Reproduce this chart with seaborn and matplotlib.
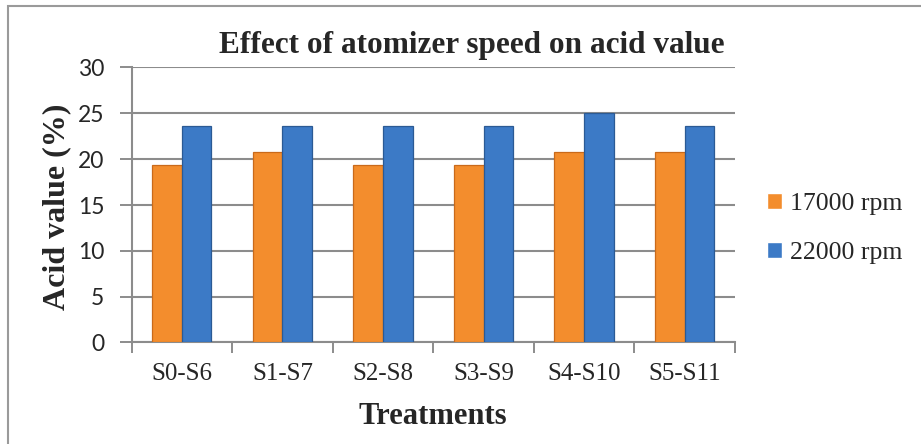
import numpy as np
import pandas as pd
import matplotlib
matplotlib.use("Agg")
import matplotlib.pyplot as plt
import seaborn as sns
from matplotlib.patches import Rectangle
from matplotlib.ticker import FixedLocator

categories = ["S0-S6", "S1-S7", "S2-S8", "S3-S9", "S4-S10", "S5-S11"]
series_names = ["17000 rpm", "22000 rpm"]
values_17000 = [19.4, 20.8, 19.4, 19.4, 20.8, 20.8]
values_22000 = [23.6, 23.6, 23.6, 23.6, 25.0, 23.6]
y_ticks = [0, 5, 10, 15, 20, 25, 30]

title = "Effect of atomizer speed on acid value"
xlabel = "Treatments"
ylabel = "Acid value (%)"

df = pd.DataFrame({
    "Treatment": categories * 2,
    "Speed": [series_names[0]] * len(categories) + [series_names[1]] * len(categories),
    "Value": values_17000 + values_22000,
})

sns.set_theme(style="white")
plt.rcParams["font.family"] = ["Liberation Serif", "DejaVu Serif"]

W, H = 921, 444
fig = plt.figure(figsize=(W / 100, H / 100), dpi=100)
ax_l, ax_r, ax_t, ax_b = 131.5, 735, 67.5, 342.5
ax = fig.add_axes([ax_l / W, 1 - ax_b / H, (ax_r - ax_l) / W, (ax_b - ax_t) / H])

palette = {series_names[0]: "#F38D2D", series_names[1]: "#3C7AC6"}
sns.barplot(data=df, x="Treatment", y="Value", hue="Speed", order=categories,
            hue_order=series_names, palette=palette, width=0.59, ax=ax,
            saturation=1, legend=True)

edge = {series_names[0]: "#C96A1B", series_names[1]: "#2B5A94"}
for container, name in zip(ax.containers, series_names):
    for bar in container:
        bar.set_edgecolor(edge[name])
        bar.set_linewidth(0.9)
        bar.set_zorder(3)

ax.set_ylim(0, 30)
ax.set_xlim(-0.5, len(categories) - 0.5)
ax.set_yticks(y_ticks)
ax.yaxis.grid(True, color="#8C8C8C", linewidth=1.5, zorder=0)
ax.set_axisbelow(True)
for s in ["top", "right"]:
    ax.spines[s].set_visible(False)
for s in ["left", "bottom"]:
    ax.spines[s].set_color("#8C8C8C")
    ax.spines[s].set_linewidth(1.5)

ax.tick_params(axis="y", which="major", direction="out", length=8.5, width=1.4,
               color="#8C8C8C", pad=11, left=True)
for lab in ax.get_yticklabels():
    lab.set_family(["Lato", "DejaVu Sans"])
    lab.set_fontsize(16.5)
ax.tick_params(axis="x", which="major", length=0, labelsize=18, pad=15)
ax.xaxis.set_minor_locator(FixedLocator(np.arange(-0.5, len(categories), 1.0)))
ax.tick_params(axis="x", which="minor", direction="out", length=8, width=1.4,
               color="#8C8C8C", bottom=True)
ax.set_xlabel("")
ax.set_ylabel("")

fig.text(472 / W, 1 - 53 / H, title, ha="center", va="baseline",
         fontsize=22.5, fontweight="bold")
fig.text(57 / W, 1 - 206.5 / H, ylabel, ha="center", va="center",
         rotation=90, fontsize=23, fontweight="bold")
fig.text(433 / W, 1 - 416 / H, xlabel, ha="center", va="center",
         fontsize=22, fontweight="bold")

handles, labels = ax.get_legend_handles_labels()
ax.get_legend().remove()
fig.legend(handles, labels, loc="center left",
           bbox_to_anchor=(767 / W, 1 - 228.5 / H), frameon=False,
           prop={"family": "Liberation Serif", "size": 18.5},
           borderpad=0, borderaxespad=0, handlelength=0.6, handleheight=0.6,
           handletextpad=0.3, labelspacing=1.05)

fig.patches.append(Rectangle((8 / W, -0.02), 1.0, 1 - 6 / H + 0.02,
                             transform=fig.transFigure, fill=False,
                             edgecolor="#9A9A9A", linewidth=1.5))

fig.savefig("out.png", dpi=100, facecolor="white")
